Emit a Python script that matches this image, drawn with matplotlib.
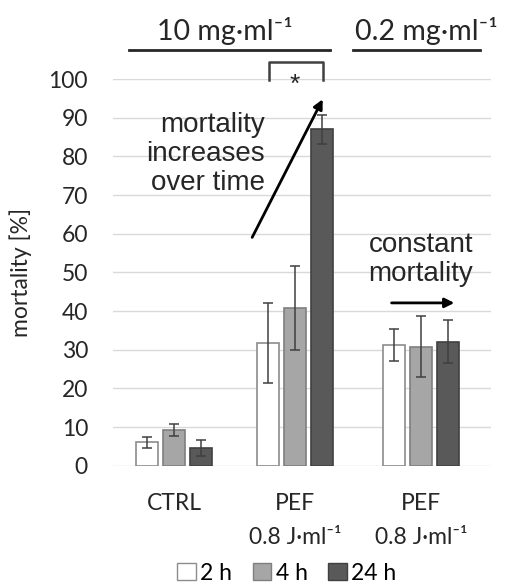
import matplotlib.pyplot as plt
import numpy as np
from matplotlib.patches import Patch

# data
groups_left = ['CTRL', 'PEF\n0.8 J·ml⁻¹']
groups_right = ['PEF\n0.8 J·ml⁻¹']
times = ['2 h', '4 h', '24 h']
mean_left = [[6.0, 31.7], [9.2, 40.8], [4.5, 87.0]]
err_left = [[1.3, 10.4], [1.5, 10.8], [2.1, 3.7]]
mean_right = [[31.2], [30.8], [32.1]]
err_right = [[4.2], [7.8], [5.5]]

faces = ['white', '#a6a6a6', '#595959']
edges = ['#8c8c8c', '#7f7f7f', '#404040']
tickFont = ['Lato', 'DejaVu Sans']
noteFont = ['Liberation Sans', 'DejaVu Sans']
fs = 16.5

fig = plt.figure(figsize=(5.06, 5.82), dpi=100)
ax1 = fig.add_axes([113/506, 116.3/582, 240/506, 386.7/582])
ax2 = fig.add_axes([353/506, 116.3/582, 138/506, 386.7/582])

width = 0.18
step = 0.223

def drawBars(ax, labels, means, errs):
    x = np.arange(len(labels))
    for i in range(3):
        ax.bar(x + (i - 1)*step, means[i], width, yerr=errs[i],
               color=faces[i], edgecolor=edges[i], linewidth=1.2,
               error_kw=dict(ecolor='#404040', elinewidth=1.1, capsize=3.5, capthick=1.1),
               zorder=3)
    ax.set_xticks(x)
    ax.set_xticklabels(labels, fontsize=fs, family=tickFont, color='#262626',
                       linespacing=1.75, va='top')
    ax.set_ylim(0, 100)
    ax.set_yticks(range(0, 101, 10))
    ax.grid(axis='y', color='#d9d9d9', linewidth=1, zorder=0)
    ax.tick_params(length=0, pad=20)
    for s in ax.spines.values():
        s.set_visible(False)

drawBars(ax1, groups_left, mean_left, err_left)
drawBars(ax2, groups_right, mean_right, err_right)
ax1.set_xlim(-0.504, 1.48)
ax2.set_xlim(-0.56, 0.58)
ax2.set_yticklabels([])
ax1.set_yticklabels([str(v) for v in range(0, 101, 10)], fontsize=fs, family=tickFont, color='#262626')
ax1.tick_params(axis='y', pad=18)
ax1.set_ylabel('mortality [%]', fontsize=fs, family=tickFont, color='#262626', labelpad=12)

# headers
hfs = 20.5
ax1.plot([-0.372, 1.29], [107.5, 107.5], color='#262626', lw=2, clip_on=False)
ax1.text(0.42, 108.8, '10 mg·ml⁻¹', ha='center', va='bottom', fontsize=hfs, family=tickFont, color='#262626')
ax2.plot([-0.56, 0.49], [107.5, 107.5], color='#262626', lw=2, clip_on=False)
ax2.text(0.05, 108.8, '0.2 mg·ml⁻¹', ha='center', va='bottom', fontsize=hfs, family=tickFont, color='#262626')

# significance bracket
ax1.plot([0.785, 0.785, 1.23, 1.23], [99.8, 104.4, 104.4, 99.8], color='#404040', lw=1.8, clip_on=False)
ax1.text(1.0, 98.6, '*', ha='center', va='center', fontsize=19, family=noteFont, color='#262626')

# annotations
ax1.annotate('', xy=(1.24, 95.4), xytext=(0.636, 58.4),
             arrowprops=dict(arrowstyle='-|>', color='black', lw=2, mutation_scale=14), zorder=5)
ax1.text(0.75, 80.6, 'mortality\nincreases\nover time', ha='right', va='center',
         fontsize=20, family=noteFont, color='#262626', linespacing=1.15, zorder=5)
ax2.annotate('', xy=(0.30, 42.1), xytext=(-0.264, 42.1),
             arrowprops=dict(arrowstyle='-|>', color='black', lw=2, mutation_scale=14), zorder=5)
ax2.text(0.0, 53.2, 'constant\nmortality', ha='center', va='center',
         fontsize=20, family=noteFont, color='#262626', linespacing=1.15, zorder=5)

handles = [Patch(facecolor=faces[i], edgecolor=edges[i], label=times[i]) for i in range(3)]
fig.legend(handles=handles, loc='center', bbox_to_anchor=(287/506, 1 - 573/582), ncol=3,
           frameon=False, handlelength=0.8, handleheight=0.8, handletextpad=0.2,
           columnspacing=0.9, prop=dict(family=tickFont, size=fs))

fig.savefig('out.png', dpi=100)
